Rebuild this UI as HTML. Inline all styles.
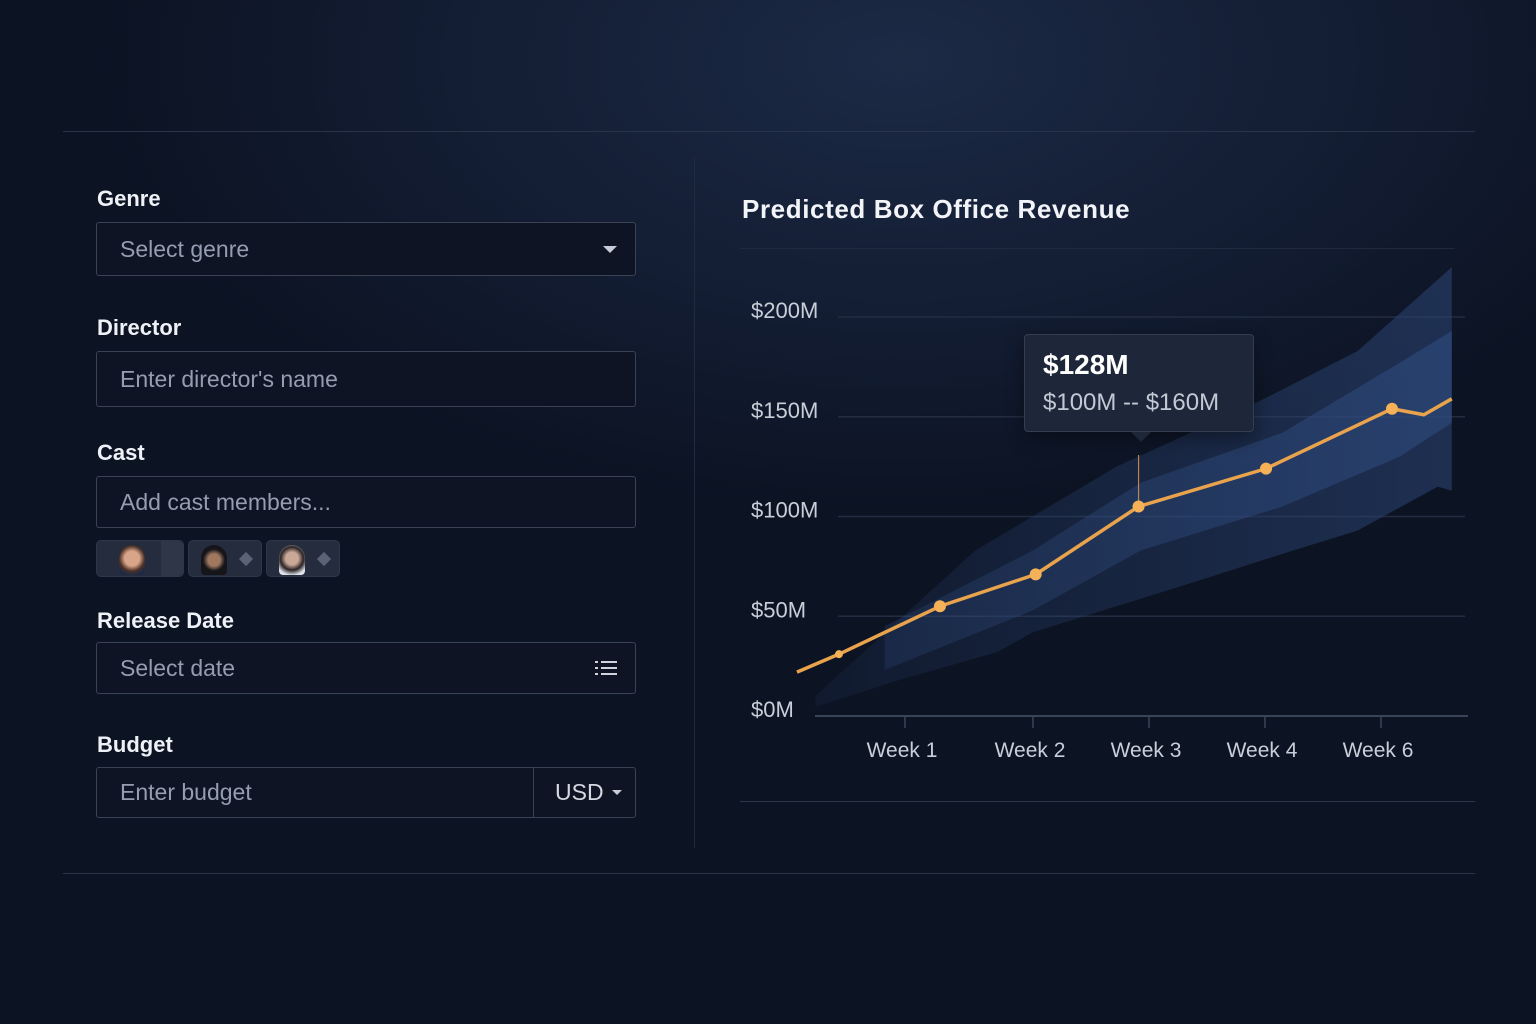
<!DOCTYPE html>
<html><head><meta charset="utf-8">
<style>
*{box-sizing:border-box;margin:0;padding:0}
body{width:1536px;height:1024px;overflow:hidden;font-family:"Liberation Sans",sans-serif;
background:radial-gradient(ellipse 1000px 560px at 900px 60px,#1c2a45 0%,#131d33 45%,#0c1323 80%),#0a101e;position:relative;color:#e8ecf3}
.hl{position:absolute;height:1px;background:#2a3448}
.lbl{position:absolute;left:97px;font-size:22px;font-weight:bold;color:#eef1f6}
.inp{position:absolute;left:96px;width:540px;border:1.5px solid #3a4355;border-radius:3px;background:#0e1424;color:#959db0;font-size:23px;padding-left:23px;display:flex;align-items:center}
.av{position:absolute;top:540px;width:74px;height:37px;border-radius:5px;background:#242c3d;border:1px solid #2e374a}
.face{position:absolute;left:18px;top:4px;width:26px;height:30px;border-radius:13px 13px 4px 4px}
.dia{position:absolute;right:10px;top:13px;width:10px;height:10px;background:#5a6375;transform:rotate(45deg)}
</style></head><body>
<div class="hl" style="left:63px;top:131px;width:1412px"></div>
<div class="hl" style="left:63px;top:873px;width:1412px"></div>
<div style="position:absolute;left:694px;top:157px;width:1px;height:691px;background:#222b3d"></div>

<div class="lbl" style="top:186px">Genre</div>
<div class="inp" style="top:222px;height:54px">Select genre
<span style="position:absolute;right:18px;top:23px;border-left:7px solid transparent;border-right:7px solid transparent;border-top:7px solid #c8ccd6"></span></div>

<div class="lbl" style="top:315px">Director</div>
<div class="inp" style="top:351px;height:56px">Enter director's name</div>

<div class="lbl" style="top:440px">Cast</div>
<div class="inp" style="top:476px;height:52px">Add cast members...</div>
<div class="av" style="left:96px;width:88px"><div class="face" style="left:22px;background:radial-gradient(circle at 50% 45%,#d9a58a 35%,#4a3026 60%,#1d2a45 80%)"></div><div style="position:absolute;right:0;top:0;width:22px;height:35px;background:#2e3648;border-radius:0 5px 5px 0"></div></div>
<div class="av" style="left:188px"><div class="face" style="left:12px;background:radial-gradient(circle at 50% 50%,#a07860 30%,#15151a 55%)"></div><div class="dia"></div></div>
<div class="av" style="left:266px"><div class="face" style="left:12px;background:radial-gradient(circle at 50% 45%,#c9a898 30%,#2a2224 55%,#dfe3ea 80%)"></div><div class="dia"></div></div>

<div class="lbl" style="top:608px">Release Date</div>
<div class="inp" style="top:642px;height:52px">Select date
<svg style="position:absolute;right:18px;top:17px" width="22" height="16"><g stroke="#d0d4dc" stroke-width="2"><line x1="0" y1="2" x2="3" y2="2"/><line x1="6" y1="2" x2="22" y2="2"/><line x1="0" y1="8" x2="3" y2="8"/><line x1="6" y1="8" x2="22" y2="8"/><line x1="0" y1="14" x2="3" y2="14"/><line x1="6" y1="14" x2="22" y2="14"/></g></svg></div>

<div class="lbl" style="top:732px">Budget</div>
<div class="inp" style="top:767px;height:51px">Enter budget
<div style="position:absolute;left:436px;top:0;bottom:0;right:0;border-left:1.5px solid #3a4355;color:#d4d8e0;padding-left:21px;display:flex;align-items:center">USD<span style="margin-left:8px;border-left:5px solid transparent;border-right:5px solid transparent;border-top:5px solid #c8ccd6"></span></div></div>

<div style="position:absolute;left:742px;top:194px;font-size:26px;font-weight:bold;color:#f2f4f8;letter-spacing:0.6px">Predicted Box Office Revenue</div>
<div class="hl" style="left:740px;top:248px;width:715px;background:#1f2a3d"></div>
<div class="hl" style="left:740px;top:801px;width:735px;background:#2c364a"></div>

<svg id="chart" width="1536" height="1024" style="position:absolute;left:0;top:0"></svg>

<div style="position:absolute;left:1024px;top:334px;width:230px;height:98px;background:#1e2739;border:1px solid #343e52;border-radius:4px;box-shadow:0 6px 18px rgba(0,0,0,.4)">
<div style="position:absolute;left:18px;top:14px;font-size:28px;font-weight:bold;color:#fff">$128M</div>
<div style="position:absolute;left:18px;top:54px;font-size:24px;color:#c3c9d4">$100M -- $160M</div>
<div style="position:absolute;left:106px;top:97px;border-left:10px solid transparent;border-right:10px solid transparent;border-top:10px solid #1e2739"></div>
</div>

<script>
const yTicks=[0,50,100,150,200];
const yTickLabels=["$0M","$50M","$100M","$150M","$200M"];
const xTicks=[1,2,3,4,5];
const xTickLabels=["Week 1","Week 2","Week 3","Week 4","Week 6"];
const lineT=[0.156,0.484,1.273,2.023,2.91,4.009,5.095,5.37,5.61];
const lineV=[22,31,55,71,105,124,154,151,159];
const markerIdx=[1,2,3,4,5,6];
const outerUpT=[0.3,1.55,2.72,3.96,4.8,5.61];
const outerUpV=[10,83,125,158,183,225];
const outerLoT=[0.3,0.95,1.72,2.0,3.38,4.19,4.8,5.49,5.61];
const outerLoV=[4.5,18,32,42,67,82,93,115,113];
const innerUpT=[0.84,2.0,2.93,4.15,5.16,5.61];
const innerUpV=[45,83,117,142,177,193];
const innerLoT=[0.84,2.0,2.93,4.15,5.16,5.61];
const innerLoV=[23,53,83,105,130,147];
const tooltipT=2.91, tooltipTop=455;

const ns="http://www.w3.org/2000/svg";
const svg=document.getElementById('chart');
const tickPx=[905,1033,1149,1265,1381];
const X=t=>{ if(t<=1) return 905+(t-1)*128; if(t>=5) return 1381+(t-5)*116; const i=Math.floor(t); return tickPx[i-1]+(t-i)*(tickPx[i]-tickPx[i-1]); };
const Y=v=>716-v*1.995;
function mk(tag,attrs){const e=document.createElementNS(ns,tag);for(const k in attrs)e.setAttribute(k,attrs[k]);svg.appendChild(e);return e;}
const defs=mk('defs',{});
defs.innerHTML='<linearGradient id="fo" x1="0" x2="1" y1="0" y2="0"><stop offset="0" stop-color="#2a4270" stop-opacity="0.15"/><stop offset="1" stop-color="#2a4270" stop-opacity="0.6"/></linearGradient><linearGradient id="fi" x1="0" x2="1" y1="0" y2="0"><stop offset="0" stop-color="#2f4c80" stop-opacity="0.25"/><stop offset="1" stop-color="#2f4c80" stop-opacity="0.6"/></linearGradient>';
yTicks.forEach((v,i)=>{
  if(v>0){const g=mk('line',{x1:838,x2:1465,y1:Y(v),y2:Y(v),stroke:'#232d42','stroke-width':1.5});
  
  }
  const t=mk('text',{x:751,y:Y(v)+1,'text-anchor':'start','font-size':22,fill:'#c9cfd9','font-family':'Liberation Sans'});
  t.textContent=yTickLabels[i];
  
  
});
function band(ut,uv,lt,lv,fill,name){
  let d='M'+ut.map((t,i)=>X(t)+','+Y(uv[i])).join('L');
  for(let i=lt.length-1;i>=0;i--)d+='L'+X(lt[i])+','+Y(lv[i]);
  const p=mk('path',{d:d+'Z',fill:fill});
  
  
}
band(outerUpT,outerUpV,outerLoT,outerLoV,'url(#fo)','outer-confidence-band');
band(innerUpT,innerUpV,innerLoT,innerLoV,'url(#fi)','inner-confidence-band');
const ax=mk('line',{x1:815,x2:1468,y1:716,y2:716,stroke:'#3a4458','stroke-width':2});


xTicks.forEach((t,i)=>{
  const tk=mk('line',{x1:X(t),x2:X(t),y1:716,y2:728,stroke:'#3a4458','stroke-width':1.5});
  
  
  const tx=mk('text',{x:X(t)-3,y:757,'text-anchor':'middle','font-size':21,fill:'#c9cfd9','font-family':'Liberation Sans'});
  tx.textContent=xTickLabels[i];
  
  
});
const vl=mk('line',{x1:X(tooltipT),x2:X(tooltipT),y1:tooltipTop,y2:Y(lineV[4]),stroke:'#b8864a','stroke-width':1.2});


const pl=mk('polyline',{points:lineT.map((t,i)=>X(t)+','+Y(lineV[i])).join(' '),fill:'none',stroke:'#e8a34c','stroke-width':3.5,'stroke-linejoin':'round'});


markerIdx.forEach(i=>{
  const c=mk('circle',{cx:X(lineT[i]),cy:Y(lineV[i]),r:i==1?4:6,fill:'#f5b157'});
  
  
});
</script>
</body></html>
